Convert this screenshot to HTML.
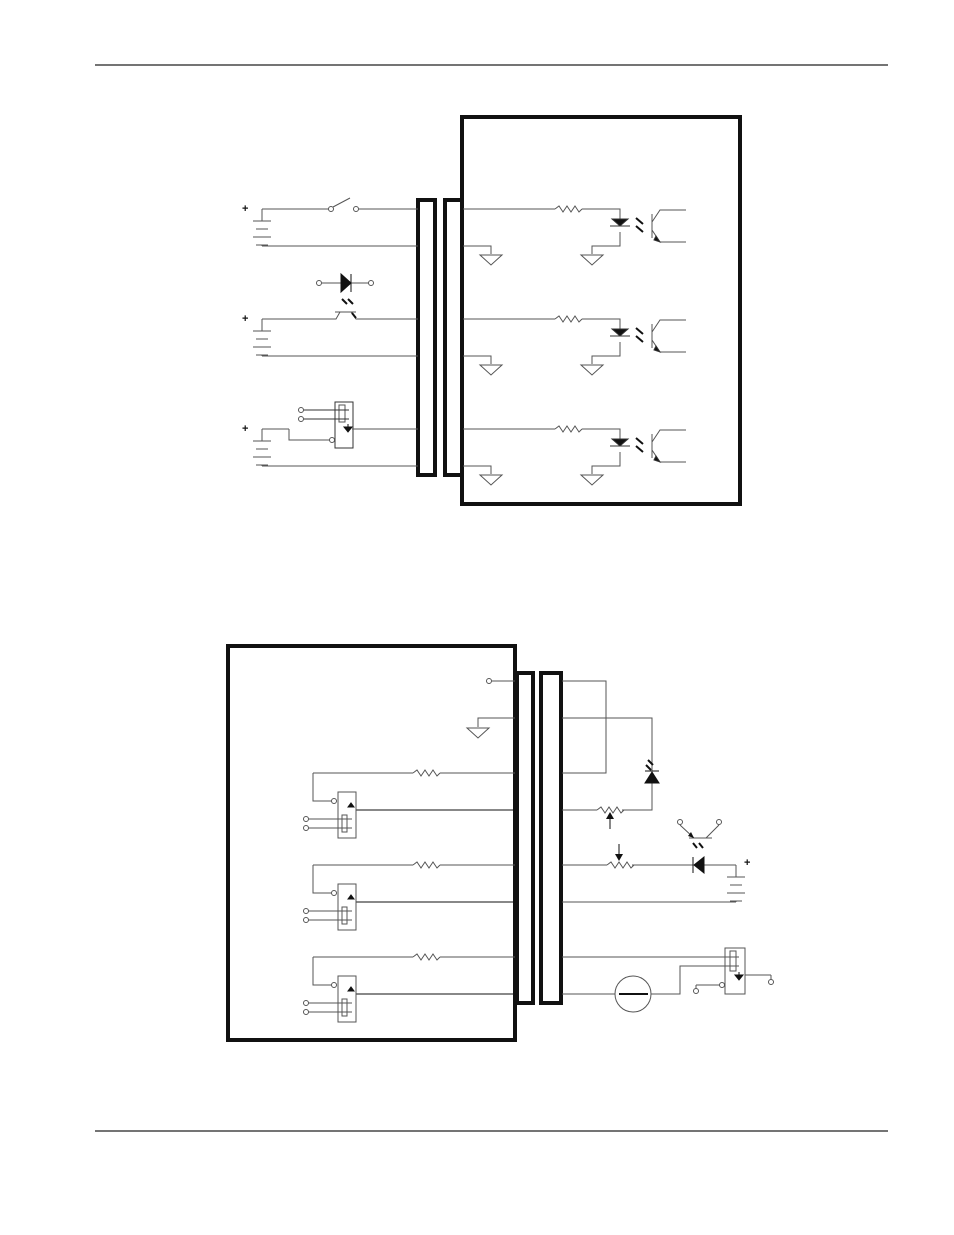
<!DOCTYPE html>
<html><head><meta charset="utf-8"><style>html,body{margin:0;padding:0;background:#fff}svg{display:block}</style></head>
<body>
<svg width="954" height="1235" viewBox="0 0 954 1235" xmlns="http://www.w3.org/2000/svg" font-family="Liberation Sans, sans-serif">
<defs>
<g id="gnd" fill="none" stroke="#555" stroke-width="1"><path d="M-11 0 H11 L0 10 Z"/></g>
<g id="res" fill="none" stroke="#555" stroke-width="1"><path d="M0 0 l4 -3 l4 6 l4 -6 l4 6 l4 -6 l4 6 l3 -3"/></g>
<g id="opto" stroke="#333" fill="none" stroke-width="1">
 <path d="M-10 0 H10 M-8 -7 H8 L0 0 Z" fill="#111"/>
 <path d="M16 -8 l7 6 M16 0 l7 6" stroke="#111" stroke-width="2"/>
 <path d="M32 -12 V12 M32 -4 L40 -16 H66 M32 4 L40 16 H66" stroke="#555"/>
 <path d="M36 10 L40 16 L34 14 Z" fill="#111"/>
</g>
<g id="bat" fill="none" stroke="#555" stroke-width="1">
 <path d="M0 0 V12 M-9 12 H9 M-6 20 H6 M-9 28 H9 M-6 36 H6 M0 36 V37"/>
</g>
<g id="hall" fill="none" stroke="#555" stroke-width="1">
 <rect x="0" y="0" width="18" height="46"/>
 <rect x="4" y="23" width="5" height="17"/>
 <path d="M-30 27 H14 M-30 36 H14" />
 <circle cx="-32" cy="27" r="2.5" fill="#fff"/><circle cx="-32" cy="36" r="2.5" fill="#fff"/>
 <circle cx="-4" cy="9" r="2.5" fill="#fff"/>
 <path d="M10 15 L13 11 L16 15 Z" fill="#111" stroke="#111"/>
</g>
</defs>
<g stroke="#222" stroke-width="1.2"><line x1="95" y1="65" x2="888" y2="65"/><line x1="95" y1="1131" x2="888" y2="1131"/></g>

<!-- TOP DIAGRAM -->
<g fill="none" stroke="#111" stroke-width="4">
<rect x="462" y="117" width="278" height="387"/>
<rect x="418" y="200" width="17" height="275"/>
<rect x="445" y="200" width="17" height="275"/>
</g>
<g fill="none" stroke="#555" stroke-width="1">
<path d="M262 209 H329 M358 209 H418 M262 246 H418"/>
<path d="M333 207 L350 198"/>
<path d="M262 319 H336 L340 312 H351 L356 319 H418 M262 356 H418 M335 312 H356"/>
<path d="M289 429 V440 H331 M355 429 H418 M262 466 H418"/>
<path d="M322 283 H341 M351 283 H370"/>
</g>
<g fill="#fff" stroke="#555"><circle cx="331" cy="209" r="2.5"/><circle cx="356" cy="209" r="2.5"/><circle cx="319" cy="283" r="2.5"/><circle cx="371" cy="283" r="2.5"/></g>
<path d="M341 274 V292 L351 283 Z M351 274 V292" fill="#111" stroke="#111"/>
<path d="M342 299 l5 5 M348 299 l5 5 M352 313 l4 5" stroke="#111" stroke-width="2"/>
<g transform="translate(262,209)"><use href="#bat"/></g>
<g transform="translate(262,319)"><use href="#bat"/></g>
<g transform="translate(262,429)"><use href="#bat"/></g>
<path d="M262 429 H289" stroke="#555"/>
<g transform="translate(335,402)">
 <rect x="0" y="0" width="18" height="46" fill="none" stroke="#333"/>
 <rect x="4" y="3" width="6" height="17" fill="none" stroke="#555"/>
 <path d="M-32 8 H14 M-32 17 H14" stroke="#333" fill="none"/>
 <circle cx="-34" cy="8" r="2.5" fill="#fff" stroke="#555"/><circle cx="-34" cy="17" r="2.5" fill="#fff" stroke="#555"/>
 <circle cx="-3" cy="38" r="2.5" fill="#fff" stroke="#555"/>
 <path d="M9 25 H17 L13 30 Z M13 22 V25" fill="#111" stroke="#111"/>
 <path d="M17 27 H20" stroke="#555"/>
</g>
<g font-size="11" font-weight="bold" fill="#111"><text x="242" y="212">+</text><text x="242" y="322">+</text><text x="242" y="432">+</text><text x="744" y="866">+</text></g>
<g fill="none" stroke="#555">
<path d="M463 209 H555 M582 209 H620 V219 M620 232 V246 H592 V254 M463 246 H491 V254"/>
<path d="M463 319 H555 M582 319 H620 V329 M620 342 V356 H592 V364 M463 356 H491 V364"/>
<path d="M463 429 H555 M582 429 H620 V439 M620 452 V466 H592 V474 M463 466 H491 V474"/>
</g>
<g transform="translate(555,209)"><use href="#res"/></g>
<g transform="translate(555,319)"><use href="#res"/></g>
<g transform="translate(555,429)"><use href="#res"/></g>
<g transform="translate(620,226)"><use href="#opto"/></g>
<g transform="translate(620,336)"><use href="#opto"/></g>
<g transform="translate(620,446)"><use href="#opto"/></g>
<g transform="translate(491,255)"><use href="#gnd"/></g><g transform="translate(592,255)"><use href="#gnd"/></g>
<g transform="translate(491,365)"><use href="#gnd"/></g><g transform="translate(592,365)"><use href="#gnd"/></g>
<g transform="translate(491,475)"><use href="#gnd"/></g><g transform="translate(592,475)"><use href="#gnd"/></g>

<!-- BOTTOM DIAGRAM -->
<g fill="none" stroke="#111" stroke-width="4">
<rect x="228" y="646" width="287" height="394"/>
<rect x="517" y="673" width="16" height="330"/>
<rect x="541" y="673" width="20" height="330"/>
</g>
<g fill="none" stroke="#555">
<path d="M492 681 H515 M515 718 H478 V727"/>
<path d="M313 773 H413 M440 773 H515 M313 773 V801 H334"/>
<path d="M313 865 H413 M440 865 H515 M313 865 V893 H334"/>
<path d="M313 957 H413 M440 957 H515 M313 957 V985 H334"/>
<path d="M562 681 H606 V773 H562 M562 718 H652 V771 M652 783 V810 H622 M597 810 H562"/>
<path d="M562 865 H607 M632 865 H693 M704 865 H736 M736 902 H562 M562 957 H725 M562 994 H615 M651 994 H680 V966 H725"/>
<path d="M696 985 H725 M745 975 H771"/>
</g>
<g stroke="#111" fill="none"><path d="M356 810 H515 M356 902 H515 M356 994 H515"/></g>
<circle cx="489" cy="681" r="2.5" fill="#fff" stroke="#555"/>
<g transform="translate(478,728)"><use href="#gnd"/></g>
<g transform="translate(413,773)"><use href="#res"/></g>
<g transform="translate(413,865)"><use href="#res"/></g>
<g transform="translate(413,957)"><use href="#res"/></g>
<g transform="translate(597,810)"><use href="#res"/></g>
<g transform="translate(607,865)"><use href="#res"/></g>
<g transform="translate(338,792)"><use href="#hall"/></g>
<g transform="translate(338,884)"><use href="#hall"/></g>
<g transform="translate(338,976)"><use href="#hall"/></g>
<path d="M645 783 H659 L652 772 Z M645 771 H659" fill="#111" stroke="#111"/>
<path d="M648 760 l5 5 M646 765 l5 5" stroke="#111" stroke-width="2"/>
<path d="M610 829 V818" stroke="#111"/><path d="M606 819 L610 812 L614 819 Z" fill="#111"/>
<path d="M619 844 V855" stroke="#111"/><path d="M615 854 L619 861 L623 854 Z" fill="#111"/>
<path d="M704 857 V873 L694 865 Z M693 857 V873" fill="#111" stroke="#111"/>
<g fill="none" stroke="#555"><path d="M689 838 H712 M680 825 L694 838 M719 825 L706 838"/></g>
<path d="M691 832 L694 838 L688 836 Z" fill="#111"/>
<g fill="#fff" stroke="#555"><circle cx="680" cy="822" r="2.5"/><circle cx="719" cy="822" r="2.5"/></g>
<path d="M693 843 l4 5 M699 843 l4 5" stroke="#111" stroke-width="2"/>
<g transform="translate(736,865)"><use href="#bat"/></g>
<circle cx="633" cy="994" r="18" fill="#fff" stroke="#555"/>
<path d="M619 994 H648" stroke="#111" stroke-width="2"/>
<g transform="translate(725,948)">
 <rect x="0" y="0" width="20" height="46" fill="none" stroke="#555"/>
 <rect x="5" y="3" width="6" height="20" fill="none" stroke="#555"/>
 <path d="M0 9 H14 M0 18 H14" stroke="#555"/>
 <path d="M10 27 H18 L14 32 Z M14 24 V27" fill="#111" stroke="#111"/>
 <circle cx="-3" cy="37" r="2.5" fill="#fff" stroke="#555"/>
</g>
<path d="M696 985 V990" stroke="#555"/><circle cx="696" cy="991" r="2.5" fill="#fff" stroke="#555"/>
<path d="M771 975 V981" stroke="#555"/><circle cx="771" cy="982" r="2.5" fill="#fff" stroke="#555"/>
</svg>
</body></html>
